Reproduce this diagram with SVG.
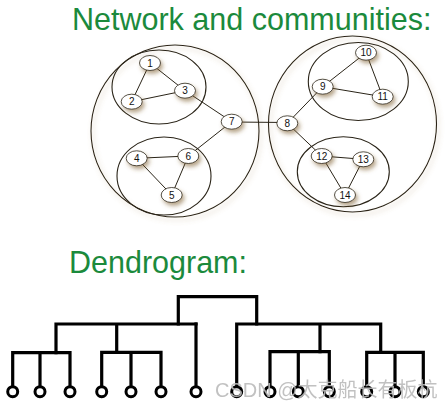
<svg xmlns="http://www.w3.org/2000/svg" width="445" height="408" viewBox="0 0 445 408">
<defs>
<filter id="sh" x="-50%" y="-50%" width="200%" height="200%">
<feDropShadow dx="2" dy="3" stdDeviation="2" flood-color="#7a5a2a" flood-opacity="0.55"/>
</filter>
<filter id="shc" x="-20%" y="-20%" width="140%" height="140%">
<feDropShadow dx="2" dy="3" stdDeviation="2.5" flood-color="#a88a5a" flood-opacity="0.45"/>
</filter>
</defs>
<style>
.title{font-family:"Liberation Sans",Arial,sans-serif;font-size:30.5px;fill:#1b8a3c}
.comm{fill:none;stroke:#2a2418;stroke-width:1.1}
.edge{stroke:#2a2418;stroke-width:1;fill:none}
.node ellipse{fill:#fff;stroke:#2a2418;stroke-width:0.8;filter:url(#sh)}
.node text{font-family:"Liberation Sans",Arial,sans-serif;font-size:10px;fill:#111;text-anchor:middle}
.dl{stroke:#000;stroke-width:3.2;fill:none;stroke-linecap:square}
.leaf{fill:#fff;stroke:#000;stroke-width:3}
.wm{font-family:"Liberation Sans","Noto Sans CJK SC",sans-serif;font-size:20px;fill:#bbb;opacity:0.9}
</style>
<rect width="445" height="408" fill="#fff"/>
<text class="title" x="72" y="30">Network and communities:</text>
<text class="title" x="69" y="273">Dendrogram:</text>

<g id="communities">
<g filter="url(#shc)">
<ellipse class="comm" cx="175" cy="131" rx="84" ry="86"/>
<ellipse class="comm" cx="352.5" cy="124" rx="84" ry="88"/>
</g>
<ellipse class="comm" cx="159" cy="87" rx="47" ry="37"/>
<ellipse class="comm" cx="164" cy="176" rx="47" ry="39"/>
<ellipse class="comm" cx="358.3" cy="81.5" rx="50" ry="39"/>
<ellipse class="comm" cx="343.3" cy="171.7" rx="46" ry="35"/>
</g>

<g id="connectors">
<line class="edge" x1="150" y1="63" x2="131.7" y2="101.7"/>
<line class="edge" x1="150" y1="63" x2="185" y2="90.7"/>
<line class="edge" x1="131.7" y1="101.7" x2="185" y2="90.7"/>
<line class="edge" x1="185" y1="90.7" x2="231.7" y2="121.7"/>
<line class="edge" x1="231.7" y1="121.7" x2="188.3" y2="156"/>
<line class="edge" x1="136.7" y1="158.3" x2="188.3" y2="156"/>
<line class="edge" x1="136.7" y1="158.3" x2="171.7" y2="195"/>
<line class="edge" x1="188.3" y1="156" x2="171.7" y2="195"/>
<line class="edge" x1="231.7" y1="122" x2="287.3" y2="122.5"/>
<line class="edge" x1="287.3" y1="123.3" x2="322.7" y2="86.7"/>
<line class="edge" x1="287.3" y1="123.3" x2="321.7" y2="156"/>
<line class="edge" x1="322.7" y1="86.7" x2="366" y2="52.7"/>
<line class="edge" x1="322.7" y1="86.7" x2="382.7" y2="96.7"/>
<line class="edge" x1="366" y1="52.7" x2="382.7" y2="96.7"/>
<line class="edge" x1="321.7" y1="156" x2="363.3" y2="159.3"/>
<line class="edge" x1="321.7" y1="156" x2="345" y2="195"/>
<line class="edge" x1="363.3" y1="159.3" x2="345" y2="195"/>
</g>

<g id="n1" class="node"><ellipse cx="150" cy="63" rx="10.5" ry="7.5"/><text x="150" y="66.5">1</text></g>
<g id="n2" class="node"><ellipse cx="131.7" cy="101.7" rx="10.5" ry="7.5"/><text x="131.7" y="105.2">2</text></g>
<g id="n3" class="node"><ellipse cx="185" cy="90.7" rx="10.5" ry="7.5"/><text x="185" y="94.2">3</text></g>
<g id="n4" class="node"><ellipse cx="136.7" cy="158.3" rx="10.5" ry="7.5"/><text x="136.7" y="161.8">4</text></g>
<g id="n5" class="node"><ellipse cx="171.7" cy="195" rx="10.5" ry="7.5"/><text x="171.7" y="198.5">5</text></g>
<g id="n6" class="node"><ellipse cx="188.3" cy="156" rx="10.5" ry="7.5"/><text x="188.3" y="159.5">6</text></g>
<g id="n7" class="node"><ellipse cx="231.7" cy="121.7" rx="10.5" ry="7.5"/><text x="231.7" y="125.2">7</text></g>
<g id="n8" class="node"><ellipse cx="287.3" cy="123.3" rx="10.5" ry="7.5"/><text x="287.3" y="126.8">8</text></g>
<g id="n9" class="node"><ellipse cx="322.7" cy="86.7" rx="10.5" ry="7.5"/><text x="322.7" y="90.2">9</text></g>
<g id="n10" class="node"><ellipse cx="366" cy="52.7" rx="10.5" ry="7.5"/><text x="366" y="56.2">10</text></g>
<g id="n11" class="node"><ellipse cx="382.7" cy="96.7" rx="10.5" ry="7.5"/><text x="382.7" y="100.2">11</text></g>
<g id="n12" class="node"><ellipse cx="321.7" cy="156" rx="10.5" ry="7.5"/><text x="321.7" y="159.5">12</text></g>
<g id="n13" class="node"><ellipse cx="363.3" cy="159.3" rx="10.5" ry="7.5"/><text x="363.3" y="162.8">13</text></g>
<g id="n14" class="node"><ellipse cx="345" cy="195" rx="10.5" ry="7.5"/><text x="345" y="198.5">14</text></g>

<g id="dendrogram">
<path class="dl" d="M178.3 324 V296.7 H256.7 V324"/>
<path class="dl" d="M56 324 H196 M56 324 V352.7 M116.7 324 V352.3"/>
<path class="dl" d="M12.7 386 V352.7 H70 V386 M40 352.7 V386"/>
<path class="dl" d="M101.7 386 V352.3 H161 V386 M131 352.3 V386"/>
<path class="dl" d="M196 324 V386"/>
<path class="dl" d="M236.7 386 V324 H380.7 V352.3 M320 324 V351.7"/>
<path class="dl" d="M270 386 V351.7 H329.3 V386 M298.3 351.7 V386"/>
<path class="dl" d="M366.7 386 V352.3 H423.3 V386 M395 352.3 V386"/>
<g id="leaves">
<circle class="leaf" cx="12.7" cy="391.7" r="5"/>
<circle class="leaf" cx="40" cy="391.7" r="5"/>
<circle class="leaf" cx="70" cy="391.7" r="5"/>
<circle class="leaf" cx="101.7" cy="391.7" r="5"/>
<circle class="leaf" cx="131" cy="391.7" r="5"/>
<circle class="leaf" cx="161" cy="391.7" r="5"/>
<circle class="leaf" cx="196" cy="391.7" r="5"/>
<circle class="leaf" cx="236.7" cy="391.7" r="5"/>
<circle class="leaf" cx="270" cy="391.7" r="5"/>
<circle class="leaf" cx="298.3" cy="391.7" r="5"/>
<circle class="leaf" cx="329.3" cy="391.7" r="5"/>
<circle class="leaf" cx="366.7" cy="391.7" r="5"/>
<circle class="leaf" cx="395" cy="391.7" r="5"/>
<circle class="leaf" cx="423.3" cy="391.7" r="5"/>
</g>
</g>
<text class="wm" x="215" y="397">CSDN @太克船长有板杭</text>
</svg>
